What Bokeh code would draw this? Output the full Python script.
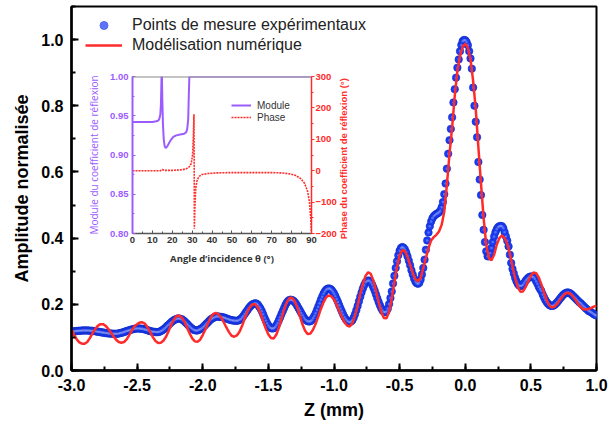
from bokeh.plotting import figure
from bokeh.models import (Range1d, LinearAxis, SingleIntervalTicker, Legend, LegendItem,
                          Span, Label, NumeralTickFormatter)
from bokeh.embed import file_html
from bokeh.resources import INLINE

# ---------------- data ----------------
# experimental points, z from -3.00 to 1.00 mm, step 0.01 mm
z_exp = [round(-3.0 + 0.01 * i, 2) for i in range(401)]
amp_exp = [
    0.118, 0.118, 0.118, 0.119, 0.119, 0.120, 0.120, 0.120, 0.121, 0.121,  # -3.0
    0.121, 0.121, 0.121, 0.121, 0.120, 0.120, 0.120, 0.119, 0.119, 0.118,  # -2.9
    0.117, 0.117, 0.116, 0.115, 0.115, 0.114, 0.113, 0.113, 0.112, 0.112,  # -2.8
    0.112, 0.111, 0.111, 0.111, 0.111, 0.111, 0.112, 0.113, 0.114, 0.115,  # -2.7
    0.116, 0.118, 0.119, 0.120, 0.122, 0.123, 0.124, 0.125, 0.126, 0.127,  # -2.6
    0.127, 0.127, 0.127, 0.126, 0.126, 0.125, 0.124, 0.123, 0.122, 0.120,  # -2.5
    0.119, 0.118, 0.117, 0.117, 0.116, 0.116, 0.116, 0.117, 0.119, 0.121,  # -2.4
    0.124, 0.127, 0.131, 0.135, 0.138, 0.142, 0.146, 0.149, 0.152, 0.154,  # -2.3
    0.156, 0.157, 0.157, 0.156, 0.155, 0.152, 0.149, 0.145, 0.141, 0.137,  # -2.2
    0.133, 0.129, 0.126, 0.123, 0.122, 0.121, 0.121, 0.123, 0.125, 0.127,  # -2.1
    0.130, 0.134, 0.138, 0.142, 0.146, 0.150, 0.154, 0.157, 0.159, 0.161,  # -2.0
    0.163, 0.163, 0.163, 0.162, 0.162, 0.161, 0.160, 0.159, 0.157, 0.156,  # -1.9
    0.154, 0.153, 0.152, 0.151, 0.151, 0.150, 0.150, 0.151, 0.153, 0.156,  # -1.8
    0.160, 0.165, 0.171, 0.177, 0.182, 0.188, 0.193, 0.197, 0.200, 0.202,  # -1.7
    0.203, 0.202, 0.199, 0.193, 0.187, 0.179, 0.170, 0.160, 0.151, 0.143,  # -1.6
    0.136, 0.131, 0.128, 0.127, 0.128, 0.131, 0.136, 0.143, 0.152, 0.161,  # -1.5
    0.171, 0.180, 0.189, 0.198, 0.205, 0.210, 0.213, 0.214, 0.213, 0.211,  # -1.4
    0.207, 0.202, 0.195, 0.188, 0.181, 0.174, 0.167, 0.160, 0.155, 0.151,  # -1.3
    0.149, 0.148, 0.149, 0.152, 0.158, 0.165, 0.173, 0.183, 0.193, 0.203,  # -1.2
    0.214, 0.223, 0.232, 0.239, 0.244, 0.247, 0.248, 0.247, 0.244, 0.239,  # -1.1
    0.233, 0.225, 0.216, 0.207, 0.197, 0.187, 0.178, 0.169, 0.161, 0.155,  # -1.0
    0.150, 0.147, 0.146, 0.148, 0.152, 0.160, 0.170, 0.182, 0.195, 0.209,  # -0.9
    0.223, 0.236, 0.248, 0.258, 0.266, 0.270, 0.272, 0.271, 0.267, 0.260,  # -0.8
    0.251, 0.241, 0.230, 0.218, 0.207, 0.197, 0.188, 0.181, 0.177, 0.176,  # -0.7
    0.179, 0.187, 0.201, 0.219, 0.239, 0.263, 0.286, 0.310, 0.330, 0.348,  # -0.6
    0.362, 0.370, 0.373, 0.371, 0.366, 0.357, 0.345, 0.332, 0.318, 0.303,  # -0.5
    0.290, 0.278, 0.269, 0.264, 0.262, 0.265, 0.275, 0.290, 0.310, 0.335,  # -0.4
    0.365, 0.393, 0.417, 0.436, 0.450, 0.460, 0.466, 0.470, 0.473, 0.475,  # -0.3
    0.478, 0.483, 0.493, 0.509, 0.533, 0.565, 0.610, 0.655, 0.696, 0.730,  # -0.2
    0.765, 0.810, 0.850, 0.885, 0.915, 0.940, 0.965, 0.984, 0.995, 0.999,  # -0.1
    0.998, 0.993, 0.983, 0.965, 0.943, 0.912, 0.855, 0.800, 0.752, 0.705,  # 0.0
    0.630, 0.577, 0.530, 0.470, 0.425, 0.388, 0.360, 0.345, 0.345, 0.355,  # 0.1
    0.370, 0.388, 0.405, 0.418, 0.427, 0.433, 0.436, 0.437, 0.436, 0.430,  # 0.2
    0.418, 0.405, 0.392, 0.375, 0.350, 0.325, 0.307, 0.293, 0.280, 0.270,  # 0.3
    0.262, 0.257, 0.255, 0.256, 0.259, 0.265, 0.271, 0.276, 0.280, 0.283,  # 0.4
    0.284, 0.284, 0.282, 0.277, 0.270, 0.262, 0.253, 0.246, 0.240, 0.230,  # 0.5
    0.221, 0.213, 0.207, 0.202, 0.198, 0.196, 0.195, 0.196, 0.198, 0.202,  # 0.6
    0.206, 0.211, 0.216, 0.221, 0.226, 0.230, 0.233, 0.235, 0.236, 0.235,  # 0.7
    0.233, 0.230, 0.226, 0.222, 0.218, 0.214, 0.210, 0.206, 0.203, 0.199,  # 0.8
    0.195, 0.191, 0.187, 0.184, 0.180, 0.178, 0.176, 0.173, 0.170, 0.168,  # 0.9
    0.166,                                                                 # 1.0
]

# numerical model, z from -3.00 to 1.00 mm, step 0.02 mm
z_model = [round(-3.0 + 0.02 * i, 2) for i in range(201)]
amp_model = [
    0.123, 0.108, 0.094, 0.085, 0.081,  # -3.0
    0.081, 0.086, 0.098, 0.112, 0.125,  # -2.9
    0.135, 0.140, 0.140, 0.135, 0.126,  # -2.8
    0.115, 0.103, 0.093, 0.086, 0.084,  # -2.7
    0.086, 0.094, 0.107, 0.121, 0.134,  # -2.6
    0.140, 0.145, 0.146, 0.141, 0.130,  # -2.5
    0.116, 0.101, 0.089, 0.083, 0.084,  # -2.4
    0.090, 0.102, 0.119, 0.138, 0.154,  # -2.3
    0.165, 0.166, 0.160, 0.148, 0.130,  # -2.2
    0.112, 0.097, 0.088, 0.087, 0.093,  # -2.1
    0.107, 0.124, 0.143, 0.160, 0.171,  # -2.0
    0.174, 0.170, 0.160, 0.146, 0.130,  # -1.9
    0.116, 0.105, 0.102, 0.106, 0.117,  # -1.8
    0.135, 0.157, 0.177, 0.192, 0.200,  # -1.7
    0.200, 0.190, 0.172, 0.149, 0.127,  # -1.6
    0.109, 0.098, 0.097, 0.108, 0.129,  # -1.5
    0.156, 0.184, 0.206, 0.219, 0.220,  # -1.4
    0.210, 0.190, 0.164, 0.139, 0.120,  # -1.3
    0.110, 0.112, 0.123, 0.141, 0.163,  # -1.2
    0.186, 0.206, 0.221, 0.227, 0.224,  # -1.1
    0.215, 0.199, 0.180, 0.162, 0.146,  # -1.0
    0.136, 0.133, 0.143, 0.165, 0.196,  # -0.9
    0.231, 0.262, 0.286, 0.297, 0.292,  # -0.8
    0.272, 0.241, 0.207, 0.177, 0.159,  # -0.7
    0.158, 0.178, 0.217, 0.266, 0.313,  # -0.6
    0.348, 0.364, 0.361, 0.344, 0.319,  # -0.5
    0.295, 0.276, 0.270, 0.279, 0.310,  # -0.4
    0.340, 0.370, 0.393, 0.403, 0.410,  # -0.3
    0.420, 0.440, 0.480, 0.560, 0.655,  # -0.2
    0.735, 0.830, 0.905, 0.950, 0.978,  # -0.1
    0.988, 0.975, 0.940, 0.875, 0.790,  # 0.0
    0.675, 0.565, 0.460, 0.380, 0.340,  # 0.1
    0.333, 0.350, 0.380, 0.400, 0.408,  # 0.2
    0.400, 0.383, 0.353, 0.315, 0.279,  # 0.3
    0.252, 0.238, 0.239, 0.252, 0.270,  # 0.4
    0.287, 0.296, 0.294, 0.281, 0.260,  # 0.5
    0.236, 0.213, 0.197, 0.190, 0.193,  # 0.6
    0.201, 0.212, 0.223, 0.232, 0.235,  # 0.7
    0.232, 0.224, 0.213, 0.201, 0.191,  # 0.8
    0.185, 0.184, 0.186, 0.189, 0.193,  # 0.9
    0.196,                              # 1.0
]

# inset: reflection coefficient vs incidence angle
theta_mod = [0, 5, 10, 12, 13, 13.5, 14, 14.3, 14.6, 14.8, 15.0, 15.3, 15.7, 16.2, 16.7,
             17.5, 18.5, 19.5, 20.5, 22, 24, 26, 27, 27.5, 28, 28.3, 28.6, 30, 40, 60, 90]
module = [0.942, 0.942, 0.942, 0.943, 0.944, 0.946, 0.952, 0.965, 1.0, 1.0, 0.97, 0.94,
          0.92, 0.911, 0.909, 0.911, 0.916, 0.920, 0.923, 0.925, 0.926, 0.927, 0.929,
          0.933, 0.945, 0.975, 1.0, 1.0, 1.0, 1.0, 1.0]
theta_ph = [0, 10, 14, 15, 16, 20, 25, 27, 28.5, 29.5, 30.2, 30.6, 30.9, 31.0, 31.1, 31.4,
            31.8, 32.5, 33.5, 35, 38, 42, 50, 60, 70, 75, 79, 82, 84.5, 86.5, 88, 89, 89.6, 90]
phase = [0, 0, 0, 4, 1, 1, 3, 6, 12, 22, 50, 110, 180, 60, -185, -110,
         -55, -30, -18, -12, -9, -7, -6, -6, -6, -7, -10, -15, -25, -40, -65, -100, -150, -195]

x_ticks_major = 0.5
y_ticks_major = 0.2

BLUE = "#1a3cf5"
RED = "#ff2b2b"
PURPLE = "#9b5cff"
FONT = "Liberation Sans"

# ---------------- main figure ----------------
p = figure(width=616, height=427, x_range=Range1d(-3, 1), y_range=Range1d(0, 1.1),
           output_backend="svg", toolbar_location=None,
           min_border_left=71, min_border_right=20, min_border_top=6, min_border_bottom=57)
p.grid.visible = False
p.outline_line_color = "black"
p.outline_line_width = 2
p.background_fill_color = "white"

dots = p.scatter(z_exp, amp_exp, size=7.5, fill_color=BLUE, line_color="#0f2bc4", line_width=0.6)
hl = p.scatter(z_exp, amp_exp, size=2.5, fill_color="#c4ceff", line_color=None, fill_alpha=0.38)
model = p.line(z_model, amp_model, line_color=RED, line_width=2.5)

for ax in (p.xaxis[0], p.yaxis[0]):
    ax.axis_line_width = 2.5
    ax.axis_line_color = "black"
    ax.major_tick_in = 7
    ax.major_tick_out = 0
    ax.minor_tick_in = 4
    ax.minor_tick_out = 0
    ax.major_tick_line_width = 2
    ax.minor_tick_line_width = 2
    ax.major_label_text_font = FONT
    ax.major_label_text_font_style = "bold"
    ax.major_label_text_font_size = "16px"
    ax.major_label_text_color = "black"
    ax.axis_label_text_font = FONT
    ax.axis_label_text_font_style = "bold"
    ax.axis_label_text_font_size = "18px"
    ax.axis_label_text_color = "black"
    ax.major_label_standoff = 8
    ax.axis_label_standoff = 6
    ax.formatter = NumeralTickFormatter(format="0.0")

p.xaxis[0].ticker = SingleIntervalTicker(interval=x_ticks_major, num_minor_ticks=2)
p.yaxis[0].ticker = SingleIntervalTicker(interval=y_ticks_major, num_minor_ticks=2)
p.xaxis[0].axis_label = "Z (mm)"
p.yaxis[0].axis_label = "Amplitude normalisée"

leg = Legend(items=[LegendItem(label="Points de mesure expérimentaux", renderers=[dots, hl]),
                    LegendItem(label="Modélisation numérique", renderers=[model])],
             location=(14, 315), glyph_width=37, glyph_height=20, label_height=20,
             label_standoff=10, padding=3, spacing=0, margin=0,
             label_text_font=FONT, label_text_font_size="16px", label_text_color="#222222",
             background_fill_alpha=0, border_line_color=None)
p.add_layout(leg)

# ---------------- inset figure ----------------
ins = figure(width=276, height=205, x_range=Range1d(0, 90), y_range=Range1d(0.8, 1.0),
             output_backend="svg", toolbar_location=None,
             min_border_left=52, min_border_right=45, min_border_top=10, min_border_bottom=38,
             styles={"position": "absolute", "left": "80px", "top": "66px"})
ins.background_fill_alpha = 0
ins.border_fill_alpha = 0
ins.grid.visible = False
ins.outline_line_color = None
ins.extra_y_ranges = {"phase": Range1d(-200, 300)}

ph = ins.line(theta_ph, phase, y_range_name="phase", line_color=RED, line_width=1.6,
              line_dash="2 1")
md = ins.line(theta_mod, module, line_color=PURPLE, line_width=2)
ins.add_layout(Span(location=1.0, dimension="width", line_color="#8a8a8a", line_width=2))

xa = ins.xaxis[0]
xa.ticker = SingleIntervalTicker(interval=10, num_minor_ticks=2)
xa.axis_line_color = "#555555"
xa.axis_line_width = 1.5
xa.major_tick_line_color = "#555555"
xa.minor_tick_line_color = "#555555"
xa.major_tick_in = 3
xa.major_tick_out = 0
xa.minor_tick_in = 2
xa.minor_tick_out = 0
xa.major_label_text_font = FONT
xa.major_label_text_font_style = "bold"
xa.major_label_text_font_size = "9.5px"
xa.major_label_text_color = "#333333"
xa.major_label_standoff = 3
xa.axis_label = "Angle d’incidence θ (°)"
xa.axis_label_text_font = "Open Sans"
xa.axis_label_text_font_style = "bold"
xa.axis_label_text_font_size = "9.5px"
xa.axis_label_text_color = "#333333"
xa.axis_label_standoff = 6

ya = ins.yaxis[0]
ya.ticker = SingleIntervalTicker(interval=0.05, num_minor_ticks=2)
ya.formatter = NumeralTickFormatter(format="0.00")
ya.axis_line_color = PURPLE
ya.axis_line_width = 2
ya.major_tick_line_color = PURPLE
ya.minor_tick_line_color = PURPLE
ya.major_tick_in = 3
ya.major_tick_out = 0
ya.minor_tick_in = 2
ya.minor_tick_out = 0
ya.major_label_text_font = FONT
ya.major_label_text_font_style = "bold"
ya.major_label_text_font_size = "9.5px"
ya.major_label_text_color = PURPLE
ya.major_label_standoff = 4
ya.axis_label = "Module du coefficient de réflexion"
ya.axis_label_text_font = "Open Sans"
ya.axis_label_text_font_style = "normal"
ya.axis_label_text_font_size = "10px"
ya.axis_label_text_color = PURPLE
ya.axis_label_standoff = 6

ra = LinearAxis(y_range_name="phase", ticker=SingleIntervalTicker(interval=100, num_minor_ticks=2))
ra.axis_line_color = RED
ra.axis_line_width = 1.5
ra.major_tick_line_color = RED
ra.minor_tick_line_color = RED
ra.major_tick_in = 0
ra.major_tick_out = 3
ra.minor_tick_in = 0
ra.minor_tick_out = 2
ra.major_label_text_font = FONT
ra.major_label_text_font_style = "bold"
ra.major_label_text_font_size = "9.5px"
ra.major_label_text_color = RED
ra.major_label_standoff = 1
ins.add_layout(ra, "right")

ileg = Legend(items=[LegendItem(label="Module", renderers=[md]),
                     LegendItem(label="Phase", renderers=[ph])],
              location=(99, 110), glyph_width=20, glyph_height=12, label_height=12,
              label_standoff=6, padding=2, spacing=0, margin=0,
              label_text_font=FONT, label_text_font_size="10px", label_text_color="#333333",
              background_fill_alpha=0, border_line_color=None)
ins.add_layout(ileg)

# right-hand inset title, written on the main canvas (reads bottom to top)
p.add_layout(Label(x=-0.928, y=0.640, text="Phase du coefficient de réflexion (°)",
                   angle=90, angle_units="deg", text_align="center", text_baseline="middle",
                   text_font=FONT, text_font_style="bold", text_font_size="9.5px",
                   text_color=RED))

open("out.html", "w").write(file_html([p, ins], INLINE))
